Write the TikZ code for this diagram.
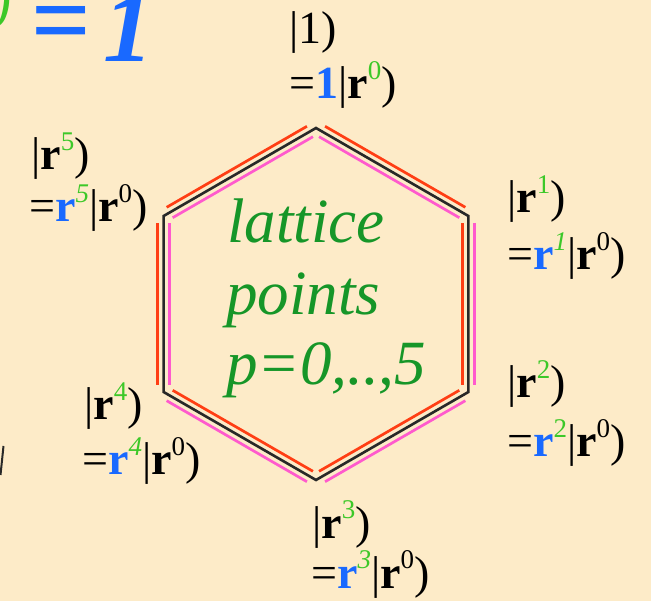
\documentclass[tikz,border=0pt]{standalone}
\usepackage{fontspec}
\setmainfont{Liberation Serif}
\usetikzlibrary{calc}
\definecolor{bg}{RGB}{253,235,200}
\definecolor{hexred}{RGB}{255,62,20}
\definecolor{hexpink}{RGB}{255,90,205}
\definecolor{hexblack}{RGB}{40,40,40}
\definecolor{dgreen}{RGB}{22,150,40}
\definecolor{lgreen}{RGB}{60,200,40}
\definecolor{myblue}{RGB}{25,105,255}
\newcommand\gsup[1]{\raisebox{0.42em}{\fontsize{27}{27}\selectfont\color{lgreen}#1}}
\newcommand\ksup[1]{\raisebox{0.42em}{\fontsize{27}{27}\selectfont #1}}
\newcommand\bb[1]{\textcolor{myblue}{\textbf{#1}}}
\tikzset{
  hexline/.style={draw=hexblack, line width=2.6pt, line join=miter},
  redoff/.style={draw=hexred, line width=2.7pt, shorten <=7pt, shorten >=7pt},
  pinkoff/.style={draw=hexpink, line width=2.7pt, shorten <=7pt, shorten >=7pt},
  lbl/.style={anchor=base west, inner sep=0pt, font=\fontsize{46}{46}\selectfont},
  inner/.style={anchor=base west, inner sep=0pt, text=dgreen, font=\fontsize{63}{63}\selectfont\itshape}
}
\begin{document}
\begin{tikzpicture}[x=1pt,y=-1pt]
\useasboundingbox (0,0) rectangle (651,601);
\fill[bg] (0,0) rectangle (651,601);
\clip (0,0) rectangle (651,601);

% fragment of the formula at the top left
\node[anchor=base east, inner sep=0pt, text=lgreen, font=\fontsize{60}{60}\selectfont\itshape] (zsup) at (11,28) {0};
\node[anchor=base west, inner sep=0pt, text=myblue, font=\fontsize{105}{105}\selectfont\bfseries] (zeq) at (31,56) {=};
\node[anchor=base west, inner sep=0pt, text=myblue, font=\fontsize{100}{100}\selectfont\bfseries\itshape] (zone) at (103,62) {1};
\draw[hexblack, line width=2pt] (3.5,446) -- (0.5,475);

% hexagon
\coordinate (v0) at (316,128);
\coordinate (v1) at (468.4,216);
\coordinate (v2) at (468.4,392);
\coordinate (v3) at (316,480);
\coordinate (v4) at (163.6,392);
\coordinate (v5) at (163.6,216);

\draw[redoff] ($(v0)+(3,-5.2)$) -- ($(v1)+(3,-5.2)$);
\draw[pinkoff] ($(v0)+(-3,5.2)$) -- ($(v1)+(-3,5.2)$);
\draw[redoff] ($(v1)+(-6,0)$) -- ($(v2)+(-6,0)$);
\draw[pinkoff] ($(v1)+(6,0)$) -- ($(v2)+(6,0)$);
\draw[redoff] ($(v2)+(-3,-5.2)$) -- ($(v3)+(-3,-5.2)$);
\draw[pinkoff] ($(v2)+(3,5.2)$) -- ($(v3)+(3,5.2)$);
\draw[redoff] ($(v3)+(3,-5.2)$) -- ($(v4)+(3,-5.2)$);
\draw[pinkoff] ($(v3)+(-3,5.2)$) -- ($(v4)+(-3,5.2)$);
\draw[redoff] ($(v4)+(-6,0)$) -- ($(v5)+(-6,0)$);
\draw[pinkoff] ($(v4)+(6,0)$) -- ($(v5)+(6,0)$);
\draw[redoff] ($(v5)+(-3,-5.2)$) -- ($(v0)+(-3,-5.2)$);
\draw[pinkoff] ($(v5)+(3,5.2)$) -- ($(v0)+(3,5.2)$);
\draw[hexline] (v0) -- (v1) -- (v2) -- (v3) -- (v4) -- (v5) -- cycle;

% centre text
\node[inner] (t1) at (227,243) {lattice};
\node[inner] (t2) at (226,315) {points};
\node[inner] (t3) at (226,385) {p=0,..,5};

% labels
\node[lbl] (a1) at (289,44) {|1)};
\node[lbl] (a2) at (289,99) {=\bb{1}|\textbf{r}\gsup{0})};

\node[lbl] (b1) at (507,213) {|\textbf{r}\gsup{1})};
\node[lbl] (b2) at (507,270) {=\bb{r}\gsup{\textit{1}}|\textbf{r}\ksup{0})};

\node[lbl] (c1) at (507,398) {|\textbf{r}\gsup{2})};
\node[lbl] (c2) at (507,457) {=\bb{r}\gsup{2}|\textbf{r}\ksup{0})};

\node[lbl] (d1) at (312,538) {|\textbf{r}\gsup{3})};
\node[lbl] (d2) at (311,588) {=\bb{r}\gsup{\textit{3}}|\textbf{r}\ksup{0})};

\node[lbl] (e1) at (84,420) {|\textbf{r}\gsup{4})};
\node[lbl] (e2) at (82,475) {=\bb{r}\gsup{\textit{4}}|\textbf{r}\ksup{0})};

\node[lbl] (f1) at (31,170) {|\textbf{r}\gsup{5})};
\node[lbl] (f2) at (29,222) {=\bb{r}\gsup{\textit{5}}|\textbf{r}\ksup{0})};
\end{tikzpicture}
\end{document}
